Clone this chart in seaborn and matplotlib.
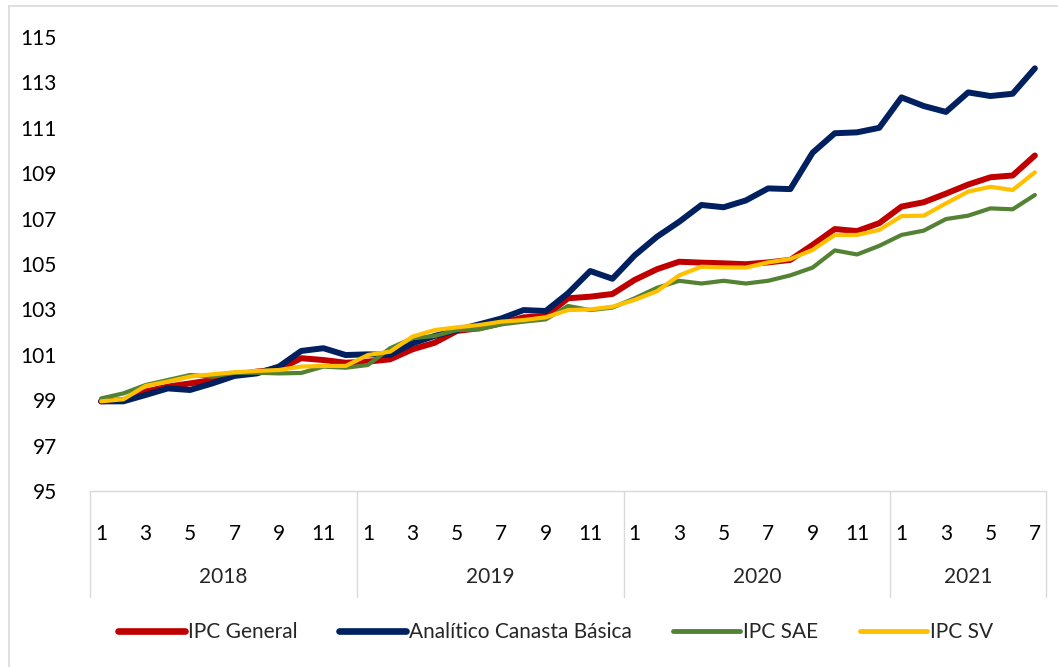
import numpy as np
import pandas as pd
import matplotlib
matplotlib.use("Agg")
import matplotlib.pyplot as plt
import matplotlib.transforms as mtransforms
from matplotlib.lines import Line2D
import seaborn as sns

# ---- data ----
years = ["2018", "2019", "2020", "2021"]
months_per_year = [12, 12, 12, 7]
month_tick_labels = ["1", "3", "5", "7", "9", "11"]
series_names = ["IPC General", "Analítico Canasta Básica", "IPC SAE", "IPC SV"]

ipc_general = [98.95, 99.0, 99.38, 99.6, 99.74, 99.89, 100.11, 100.26, 100.36, 100.85, 100.77, 100.65,
               100.7, 100.8, 101.24, 101.53, 102.05, 102.17, 102.39, 102.65, 102.71, 103.49, 103.56, 103.68,
               104.3, 104.77, 105.1, 105.06, 105.03, 104.99, 105.07, 105.18, 105.84, 106.54, 106.45, 106.8,
               107.53, 107.72, 108.1, 108.5, 108.82, 108.9, 109.78]
canasta_basica = [98.95, 98.95, 99.23, 99.52, 99.45, 99.74, 100.07, 100.18, 100.48, 101.17, 101.29, 100.99,
                  101.02, 101.0, 101.5, 101.83, 102.09, 102.34, 102.6, 102.97, 102.93, 103.71, 104.69, 104.35,
                  105.38, 106.2, 106.86, 107.6, 107.5, 107.8, 108.33, 108.3, 109.9, 110.76, 110.8, 111.0,
                  112.34, 111.96, 111.7, 112.56, 112.4, 112.5, 113.62]
ipc_sae = [99.08, 99.3, 99.67, 99.89, 100.11, 100.04, 100.21, 100.21, 100.18, 100.2, 100.48, 100.43,
           100.55, 101.29, 101.73, 101.83, 102.09, 102.12, 102.34, 102.46, 102.56, 103.15, 102.97, 103.08,
           103.49, 103.95, 104.26, 104.14, 104.26, 104.14, 104.26, 104.5, 104.84, 105.6, 105.42, 105.8,
           106.28, 106.47, 106.98, 107.13, 107.45, 107.41, 108.04]
ipc_sv = [98.95, 99.04, 99.63, 99.82, 100.04, 100.14, 100.23, 100.29, 100.33, 100.48, 100.51, 100.51,
          100.99, 101.14, 101.8, 102.09, 102.21, 102.31, 102.46, 102.53, 102.65, 102.97, 103.0, 103.12,
          103.42, 103.8, 104.5, 104.88, 104.85, 104.84, 105.07, 105.22, 105.62, 106.28, 106.28, 106.5,
          107.11, 107.13, 107.67, 108.19, 108.4, 108.26, 109.04]

colors = ["#C00000", "#002060", "#548235", "#FFC000"]
widths = [4.3, 4.3, 3.0, 3.0]

# ---- build long table ----
month_num = [m for n in months_per_year for m in range(1, n + 1)]
pos = np.arange(len(month_num))
frames = []
for name, vals in zip(series_names, [ipc_general, canasta_basica, ipc_sae, ipc_sv]):
    frames.append(pd.DataFrame({"pos": pos, "value": vals, "serie": name}))
df = pd.concat(frames, ignore_index=True)

sns.set_theme(style="white")
FONT = ["Lato", "DejaVu Sans"]
plt.rcParams["font.family"] = FONT
FS = 15

fig = plt.figure(figsize=(10.58, 6.67), dpi=100)
ax = fig.add_axes([90 / 1058, 1 - 491 / 667, (1046 - 90) / 1058, (491 - 37) / 667])

sns.lineplot(data=df, x="pos", y="value", hue="serie", hue_order=series_names,
             palette=colors, ax=ax, legend=False, estimator=None)
for line, w in zip(ax.get_lines(), widths):
    line.set_linewidth(w)
    line.set_solid_capstyle("round")
    line.set_solid_joinstyle("round")

n = len(pos)
ax.set_xlim(-0.5, n - 0.5)
ax.set_ylim(95, 115)
ax.set_yticks(np.arange(95, 116, 2))
ax.set_yticklabels([str(v) for v in range(95, 116, 2)], fontsize=FS, color="#000000")
ax.tick_params(axis="y", length=0, pad=24)

# month ticks (odd months)
tick_pos = [p for p, m in zip(pos, month_num) if str(m) in month_tick_labels]
tick_lab = [str(month_num[p]) for p in tick_pos]
ax.set_xticks(tick_pos)
ax.set_xticklabels(tick_lab, fontsize=FS, color="#000000")
ax.tick_params(axis="x", length=0, pad=24)
ax.set_xlabel("")
ax.set_ylabel("")

for s in ["top", "right", "left"]:
    ax.spines[s].set_visible(False)
ax.spines["bottom"].set_color("#D9D9D9")
ax.spines["bottom"].set_linewidth(1.0)

# year group separators and labels
trans = mtransforms.blended_transform_factory(ax.transData, ax.transAxes)
bottom_frac = -(597 - 491) / (491 - 37)
bounds = np.cumsum([0] + months_per_year) - 0.5
for b in bounds:
    ax.plot([b, b], [0, bottom_frac], transform=trans, color="#D9D9D9", lw=1.0, clip_on=False)
year_y = -(577 - 491) / (491 - 37)
for yr, a, b in zip(years, bounds[:-1], bounds[1:]):
    ax.text((a + b) / 2, year_y, yr, transform=trans, ha="center", va="center", fontsize=FS)

# legend
handles = [Line2D([0], [0], color=c, lw=w + 0.5) for c, w in zip(colors, widths)]
fig.legend(handles, series_names, loc="center", bbox_to_anchor=(0.525, 1 - 632 / 667), ncol=4,
           frameon=False, fontsize=FS, handlelength=3.2, handletextpad=0.15, columnspacing=2.0)

# chart border (left and top edges visible in the reference)
bx = 8.5 / 1058
by = 1 - 5.5 / 667
fig.add_artist(Line2D([bx, bx], [0, by], transform=fig.transFigure, color="#D9D9D9", lw=1.2))
fig.add_artist(Line2D([bx, 1], [by, by], transform=fig.transFigure, color="#D9D9D9", lw=1.2))

fig.savefig("out.png", dpi=100, facecolor="white")
